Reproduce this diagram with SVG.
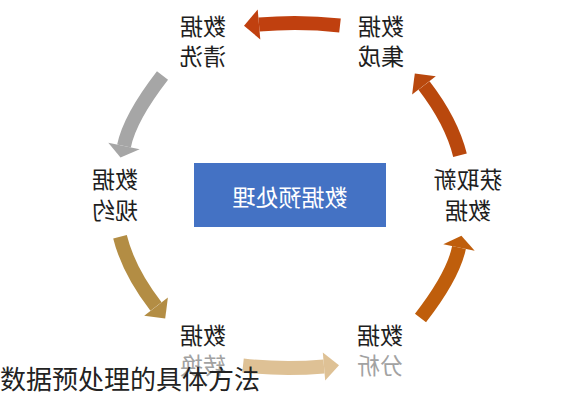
<svg xmlns="http://www.w3.org/2000/svg" width="583" height="400" viewBox="0 0 583 400">
  <style>
    .lbl { font-family: "Noto Sans CJK SC", "Noto Sans", sans-serif; font-size: 23px; fill: #1e1e1e; text-anchor: middle; }
    .faded { fill: #a2a2a2; }
    .ctr { font-family: "Noto Sans CJK SC", "Noto Sans", sans-serif; font-size: 23px; fill: #ffffff; text-anchor: middle; }
    .cap { font-family: "Noto Sans CJK SC", "Noto Sans", sans-serif; font-size: 26px; fill: #222222; }
    .body { fill: none; stroke-width: 14; stroke-linecap: butt; }
  </style>
  <rect x="0" y="0" width="583" height="400" fill="#ffffff"/>

  <g id="connectors">
    <g id="arrow-jicheng-qingxi">
      <path class="body" stroke="#C0400F" d="M340,25.5 Q300,21 259,24.5"/>
      <polygon fill="#C0400F" points="257.7,9.6 244,25.8 260.3,39.4"/>
    </g>
    <g id="arrow-qingxi-guiyue">
      <path class="body" stroke="#A6A6A6" d="M162.5,75.5 Q129.7,117.9 124,146"/>
      <polygon fill="#A6A6A6" points="108.3,142.8 120.5,157.5 139.7,149.2"/>
    </g>
    <g id="arrow-guiyue-zhuanhuan">
      <path class="body" stroke="#B38D44" d="M120,236.7 Q128.4,270.7 156,306.5"/>
      <polygon fill="#B38D44" points="144.2,315.7 165.2,318.4 167.9,297.4"/>
    </g>
    <g id="arrow-zhuanhuan-fenxi">
      <path class="body" stroke="#DEC195" d="M243,365.5 Q283,370 324,366.5"/>
      <polygon fill="#DEC195" points="322.8,352.6 339,365.2 325.2,380.4"/>
    </g>
    <g id="arrow-fenxi-huoqu">
      <path class="body" stroke="#BF5E0C" d="M420.5,318 Q453.3,275.6 459,247.5"/>
      <polygon fill="#BF5E0C" points="443.3,244.3 461.4,235.7 474.7,250.7"/>
    </g>
    <g id="arrow-huoqu-jicheng">
      <path class="body" stroke="#B9480D" d="M460,155.3 Q451.6,121.3 424,85.5"/>
      <polygon fill="#B9480D" points="412.1,94.6 414.8,73.6 435.8,76.3"/>
    </g>
  </g>

  <g id="node-center">
    <rect x="194" y="163" width="192" height="64" fill="#4472C4"/>
    <text class="ctr" transform="translate(290,205.5) scale(-1,1)">数据预处理</text>
  </g>

  <g id="node-jicheng">
    <text class="lbl" transform="translate(381,35) scale(-1,1)">数据</text>
    <text class="lbl" transform="translate(381,65) scale(-1,1)">集成</text>
  </g>
  <g id="node-qingxi">
    <text class="lbl" transform="translate(203,35) scale(-1,1)">数据</text>
    <text class="lbl" transform="translate(203,65) scale(-1,1)">清洗</text>
  </g>
  <g id="node-guiyue">
    <text class="lbl" transform="translate(115,188) scale(-1,1)">数据</text>
    <text class="lbl" transform="translate(115,219) scale(-1,1)">规约</text>
  </g>
  <g id="node-huoqu">
    <text class="lbl" transform="translate(468,188) scale(-1,1)">获取新</text>
    <text class="lbl" transform="translate(468,219) scale(-1,1)">数据</text>
  </g>
  <g id="node-zhuanhuan">
    <text class="lbl" transform="translate(203,344) scale(-1,1)">数据</text>
    <text class="lbl faded" transform="translate(203,374) scale(-1,1)">转换</text>
  </g>
  <g id="node-fenxi">
    <text class="lbl" transform="translate(380,344) scale(-1,1)">数据</text>
    <text class="lbl faded" transform="translate(380,374) scale(-1,1)">分析</text>
  </g>

  <text class="cap" x="0" y="389">数据预处理的具体方法</text>
</svg>
